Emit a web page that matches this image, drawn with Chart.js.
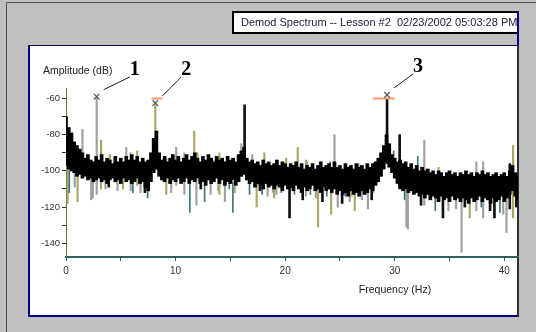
<!DOCTYPE html>
<html>
<head>
<meta charset="utf-8">
<script src="https://cdn.jsdelivr.net/npm/chart.js@4"></script>
<style>
  html, body { margin: 0; padding: 0; background: #c0c0c0; }
  canvas { display: block; }
</style>
</head>
<body>
<canvas id="spectrum" width="536" height="332"></canvas>
<script>
// Demod spectrum: amplitude (dB) against frequency (Hz)
const BIN_HZ = 0.25;

// top and bottom of the dense black noise band, one value per 0.25 Hz bin
const bandHigh = [
  -70, -76, -79, -84, -86, -88, -90, -93, -91, -94, -95, -92, -94, -91, -95, -93,
  -94, -96, -92, -95, -93, -95, -92, -94, -91, -94, -92, -95, -93, -95, -94, -90,
  -82, -78, -90, -94, -92, -95, -93, -91, -94, -92, -95, -93, -91, -94, -92, -90,
  -93, -95, -92, -94, -91, -93, -95, -92, -94, -93, -95, -92, -94, -93, -95, -91,
  -89, -87, -93, -95, -94, -96, -95, -97, -94, -96, -95, -97, -96, -94, -97, -95,
  -96, -98, -96, -97, -95, -98, -96, -99, -97, -98, -96, -99, -97, -95, -98, -97,
  -96, -98, -95, -98, -97, -99, -96, -98, -97, -99, -96, -98, -97, -99, -96, -98,
  -96, -95, -93, -90, -86, -80, -85, -91, -93, -95, -94, -96, -95, -98, -96, -99,
  -97, -100, -98, -100, -99, -101, -100, -102, -100, -101, -103, -101, -100, -102, -101, -103,
  -101, -102, -100, -102, -101, -103, -101, -102, -100, -102, -101, -103, -102, -101, -103, -102,
  -101, -103, -100, -97, -101, -103
];
const bandLow = [
  -97, -99, -100, -101, -103, -102, -104, -103, -105, -104, -106, -105, -104, -106, -105, -107,
  -105, -104, -106, -105, -107, -104, -106, -105, -107, -106, -104, -107, -106, -109, -111, -106,
  -101, -99, -103, -105, -106, -104, -107, -105, -106, -104, -107, -106, -104, -107, -105, -106,
  -104, -107, -106, -108, -105, -107, -106, -104, -107, -105, -108, -106, -107, -105, -108, -106,
  -103, -102, -105, -107, -106, -109, -107, -108, -110, -107, -109, -108, -110, -108, -109, -111,
  -108, -110, -109, -111, -108, -110, -112, -109, -111, -110, -108, -111, -110, -112, -109, -111,
  -110, -112, -110, -113, -111, -113, -112, -114, -111, -113, -112, -114, -111, -113, -112, -110,
  -111, -108, -106, -103, -99, -95, -98, -101, -104, -107, -109, -111, -110, -112, -111, -113,
  -112, -114, -113, -115, -113, -116, -114, -115, -117, -114, -116, -115, -117, -114, -116, -115,
  -117, -115, -116, -118, -115, -117, -116, -114, -117, -115, -116, -118, -115, -117, -116, -114,
  -117, -115, -113, -111, -114, -116
];

// single-bin spikes: [frequency Hz, low dB, high dB]
const spikesGray = [
  [0.8, -109, -96], [1.5, -100, -77], [2.3, -116, -100], [2.45, -115, -98], [2.8, -113, -60],
  [3.6, -110, -100], [5.5, -104, -87], [5.9, -111, -90], [6.8, -112, -100], [10.06, -108, -87],
  [10.8, -113, -90], [11.9, -119, -104], [13.2, -113, -104], [14.5, -117, -104], [16.0, -103, -85],
  [17.0, -102, -91], [18.4, -114, -104], [18.9, -112, -104], [21.9, -114, -94], [24.5, -110, -80],
  [24.8, -120, -108], [26.7, -108, -96], [27.0, -116, -108], [27.55, -121, -108], [31.07, -131, -108],
  [31.2, -132, -110], [32.7, -119, -83], [34.9, -122, -112], [36.1, -145, -112], [37.45, -122, -95],
  [38.07, -126, -95], [40.2, -134, -114], [4.7, -111, -102], [9.6, -112, -104], [13.9, -111, -96],
  [19.2, -113, -100], [22.8, -115, -101], [25.9, -117, -100], [35.6, -121, -108], [39.9, -124, -104]
];
const spikesOlive = [
  [0.15, -118, -85], [1.06, -117, -100], [3.2, -110, -83], [4.0, -104, -91], [6.5, -108, -89],
  [8.15, -100, -63], [9.15, -113, -93], [11.7, -105, -78], [12.0, -104, -90], [13.55, -104, -94],
  [14.0, -113, -90], [15.4, -112, -104], [17.4, -120, -106], [18.1, -104, -90], [20.1, -104, -93],
  [21.15, -106, -87], [23.0, -131, -108], [24.2, -124, -108], [26.05, -114, -98], [26.35, -122, -108],
  [33.1, -112, -99], [36.85, -126, -114], [40.8, -126, -86], [5.2, -110, -100], [19.0, -115, -104],
  [22.0, -107, -95], [34.0, -113, -98]
];
const spikesTeal = [
  [0.3, -112, -100], [7.45, -115, -104], [11.3, -123, -104], [12.65, -117, -104], [15.23, -123, -106],
  [16.75, -113, -104], [17.9, -113, -106], [19.65, -112, -106], [20.85, -113, -108], [22.3, -113, -108],
  [23.8, -114, -108], [24.1, -108, -95], [25.5, -114, -110], [28.0, -112, -106], [29.9, -100, -89],
  [32.1, -110, -92], [33.7, -122, -112], [39.6, -123, -114], [6.1, -112, -104], [14.9, -110, -100],
  [30.9, -116, -105], [37.9, -120, -110]
];
const spikesBlack = [
  [16.3, -100, -63.5], [20.4, -126, -108], [29.3, -96, -60], [30.45, -110, -80], [34.4, -126, -114],
  [38.7, -122, -114], [39.1, -126, -114], [41.1, -120, -110], [3.9, -109, -100], [7.2, -112, -103],
  [12.3, -110, -97], [17.7, -111, -101], [21.6, -116, -105], [23.4, -117, -106], [25.2, -118, -107],
  [27.9, -116, -103], [32.4, -119, -108], [36.4, -120, -110], [40.5, -121, -96]
];

// numbered peak markers
const markerFreqs = [2.8, 8.15, 29.3];
const markerAmps = [-59, -62.5, -58];
const markerLabels = ['1', '2', '3'];

// orange reference cursors: [from Hz, to Hz, level dB]
const refLines = [[7.8, 8.8, -60], [28.0, 30.0, -60]];

const xTickLabels = [0, 10, 20, 30, 40];
const yTickLabels = [-60, -80, -100, -120, -140];

const titleText = 'Demod Spectrum -- Lesson #2  02/23/2002 05:03:28 PM';

const toBars = list => list.map(([f, lo, hi]) => ({ x: f, y: [lo, hi] }));

const framePlugin = {
  id: 'frame',
  beforeDraw(chart) {
    const { ctx, width, height } = chart;
    ctx.save();
    ctx.fillStyle = '#c0c0c0';
    ctx.fillRect(0, 0, width, height);

    // outer window edge
    ctx.strokeStyle = '#505050';
    ctx.lineWidth = 1;
    ctx.beginPath();
    ctx.moveTo(6.5, height);
    ctx.lineTo(6.5, 2.5);
    ctx.lineTo(width, 2.5);
    ctx.stroke();

    // white plot panel
    ctx.fillStyle = '#ffffff';
    ctx.fillRect(28, 45, 490, 272);
    ctx.fillStyle = '#000080';
    ctx.fillRect(28, 45, 2, 272);
    ctx.fillRect(28, 315, 490, 2);
    ctx.fillStyle = '#101040';
    ctx.fillRect(28, 45, 490, 1);
    ctx.fillStyle = '#303030';
    ctx.fillRect(517, 45, 2, 272);

    // title box
    ctx.fillStyle = '#ffffff';
    ctx.fillRect(232, 11, 287, 22);
    ctx.strokeStyle = '#000000';
    ctx.lineWidth = 2;
    ctx.strokeRect(233, 12, 285, 21);
    ctx.fillStyle = '#000080';
    ctx.fillRect(517, 11, 2, 35);

    ctx.beginPath();
    ctx.rect(234, 13, 283, 19);
    ctx.clip();
    ctx.fillStyle = '#1a1a3a';
    ctx.font = '11px "Liberation Sans", Arial, sans-serif';
    ctx.textBaseline = 'middle';
    ctx.textAlign = 'left';
    ctx.fillText(titleText, 241, 22.5);
    ctx.restore();
  },
  afterDraw(chart) {
    const { ctx } = chart;
    const xs = chart.scales.x;
    const ys = chart.scales.y;
    ctx.save();
    ctx.fillStyle = '#222';
    ctx.font = '10.5px "Liberation Sans", Arial, sans-serif';
    ctx.textBaseline = 'middle';
    ctx.textAlign = 'left';
    ctx.fillText('Amplitude (dB)', 43, 71);
    ctx.textAlign = 'center';
    ctx.fillText('Frequency (Hz)', 395, 290);

    // numbered call-outs with leader lines
    const labelDx = [38, 31, 31];
    const labelY = [70, 70, 67];
    ctx.font = 'bold 20px "Liberation Serif", "Times New Roman", serif';
    ctx.strokeStyle = '#222';
    ctx.lineWidth = 1;
    markerFreqs.forEach((f, i) => {
      const mx = xs.getPixelForValue(f);
      const my = ys.getPixelForValue(markerAmps[i]);
      const lx = mx + labelDx[i];
      const ly = labelY[i];
      ctx.beginPath();
      ctx.moveTo(mx + 7, my - 7);
      ctx.lineTo(lx - 5, ly + 7);
      ctx.stroke();
      ctx.fillStyle = '#000';
      ctx.fillText(markerLabels[i], lx, ly);
    });
    ctx.restore();
  }
};

new Chart(document.getElementById('spectrum'), {
  type: 'bar',
  data: {
    datasets: [
      {
        type: 'line',
        label: 'markers',
        data: markerFreqs.map((f, i) => ({ x: f, y: markerAmps[i] })),
        showLine: false,
        pointStyle: 'crossRot',
        pointRadius: 4,
        borderColor: '#555',
        borderWidth: 1.2
      },
      ...refLines.map(([from, to, level]) => ({
        type: 'line',
        label: 'cursor',
        data: [{ x: from, y: level }, { x: to, y: level }],
        borderColor: '#ff9a6a',
        borderWidth: 2,
        pointRadius: 0
      })),
      {
        label: 'band',
        data: bandHigh.map((hi, i) => ({ x: i * BIN_HZ, y: [bandLow[i], hi] })),
        backgroundColor: '#000',
        barThickness: 3,
        grouped: false
      },
      { label: 'black', data: toBars(spikesBlack), backgroundColor: '#111', barThickness: 2, grouped: false },
      { label: 'teal', data: toBars(spikesTeal), backgroundColor: '#3a7878', barThickness: 1, grouped: false },
      { label: 'olive', data: toBars(spikesOlive), backgroundColor: '#a8a864', barThickness: 1.5, grouped: false },
      { label: 'gray', data: toBars(spikesGray), backgroundColor: '#a0a0a0', barThickness: 1.5, grouped: false }
    ]
  },
  options: {
    responsive: false,
    animation: false,
    events: [],
    layout: { padding: { left: 0, top: 88, right: 18, bottom: 55 } },
    plugins: {
      legend: { display: false },
      tooltip: { enabled: false }
    },
    scales: {
      x: {
        type: 'linear',
        min: 0,
        max: 41.25,
        offset: false,
        grid: { drawOnChartArea: false, tickLength: 4, color: '#2f5f5f', offset: false },
        border: { color: '#2f5f5f', width: 2 },
        ticks: {
          stepSize: 5,
          includeBounds: false,
          autoSkip: false,
          maxRotation: 0,
          padding: 4,
          color: '#333',
          font: { family: '"Liberation Sans", Arial, sans-serif', size: 10 },
          callback: v => xTickLabels.includes(v) ? String(v) : ''
        },
        afterFit: s => { s.height = 20; }
      },
      y: {
        min: -147.6,
        max: -54.2,
        grid: { drawOnChartArea: false, tickLength: 4, color: '#333' },
        border: { color: '#6b6b3a', width: 1 },
        ticks: {
          stepSize: 10,
          includeBounds: false,
          padding: 2,
          color: '#333',
          font: { family: '"Liberation Sans", Arial, sans-serif', size: 9.5 },
          callback: v => yTickLabels.includes(v) ? String(v) : ''
        },
        afterFit: s => { s.width = 66; }
      }
    }
  },
  plugins: [framePlugin]
});
</script>
</body>
</html>
